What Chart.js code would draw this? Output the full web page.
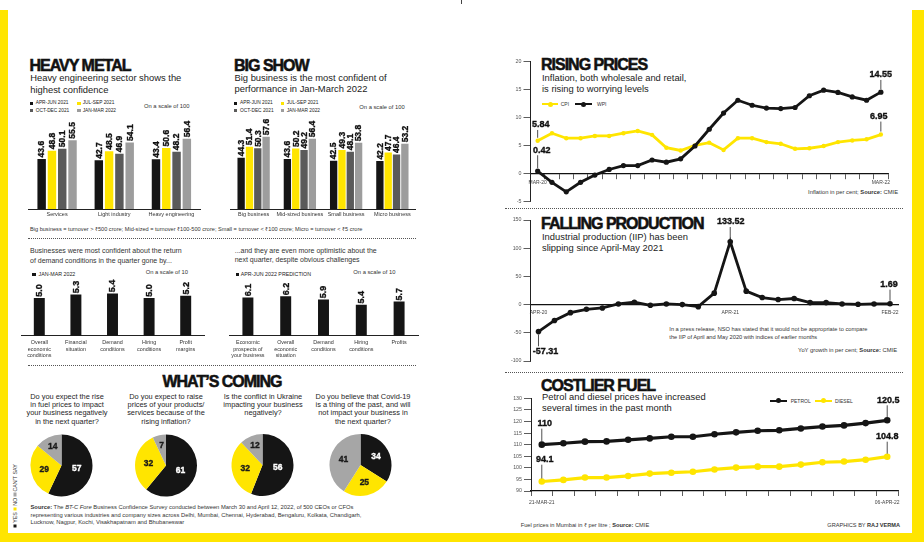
<!DOCTYPE html>
<html>
<head>
<meta charset="utf-8">
<script src="https://cdn.jsdelivr.net/npm/chart.js@4.4.1/dist/chart.umd.min.js"></script>
<style>
html,body{margin:0;padding:0;background:#fff;}
#root{position:relative;width:924px;height:542px;overflow:hidden;background:#fff;font-family:"Liberation Sans",Arial,sans-serif;color:#222;}
.t{position:absolute;white-space:nowrap;}
.ttl{font-weight:700;font-size:16px;line-height:16px;letter-spacing:-1px;-webkit-text-stroke:0.55px #111;color:#111;}
.sub{font-size:9.4px;line-height:11.8px;color:#222;}
.leg{font-size:4.8px;line-height:6px;color:#222;}
.sq{position:absolute;width:3.4px;height:3.4px;}
.sm{font-size:5.8px;line-height:7px;color:#333;}
.q{font-size:7.4px;line-height:8.2px;color:#1e1e1e;text-align:center;width:110px;}
.dot{position:absolute;height:0;border-top:1px dotted #555;}
.yb{position:absolute;background:#FFE500;}
.ln{position:absolute;height:2.4px;}
.pt{position:absolute;width:5px;height:5px;border-radius:50%;}
canvas{position:absolute;}
</style>
</head>
<body>
<div id="root">
  <!-- yellow frame -->
  <div class="yb" style="left:0;top:10px;width:7.5px;height:532px"></div>
  <div class="yb" style="left:911.5px;top:10px;width:12.5px;height:532px"></div>
  <div class="yb" style="left:0;top:533px;width:924px;height:9px"></div>
  <div style="position:absolute;left:460.5px;top:0;width:1px;height:4px;background:#444"></div>

  <!-- HEAVY METAL -->
  <div class="t ttl" style="left:29.5px;top:58.3px">HEAVY METAL</div>
  <div class="t sub" style="left:30.2px;top:72px">Heavy engineering sector shows the<br>highest confidence</div>
  <div class="sq" style="left:30px;top:101.6px;background:#151515"></div>
  <div class="t leg" style="left:35.7px;top:100.3px">APR-JUN 2021</div>
  <div class="sq" style="left:77.3px;top:101.6px;background:#FFE500"></div>
  <div class="t leg" style="left:82.7px;top:100.3px">JUL-SEP 2021</div>
  <div class="sq" style="left:30px;top:109px;background:#5a5a5a"></div>
  <div class="t leg" style="left:35.7px;top:107.7px">OCT-DEC 2021</div>
  <div class="sq" style="left:77.3px;top:109px;background:#9d9d9d"></div>
  <div class="t leg" style="left:82.7px;top:107.7px">JAN-MAR 2022</div>
  <div class="t sm" style="left:144px;top:103.2px">On a scale of 100</div>

  <!-- BIG SHOW -->
  <div class="t ttl" style="left:234px;top:58.3px">BIG SHOW</div>
  <div class="t sub" style="left:234.5px;top:71.7px">Big business is the most confident of<br>performance in Jan-March 2022</div>
  <div class="sq" style="left:234px;top:101.6px;background:#151515"></div>
  <div class="t leg" style="left:240px;top:100.3px">APR-JUN 2021</div>
  <div class="sq" style="left:280.7px;top:101.6px;background:#FFE500"></div>
  <div class="t leg" style="left:286.7px;top:100.3px">JUL-SEP 2021</div>
  <div class="sq" style="left:234px;top:109px;background:#5a5a5a"></div>
  <div class="t leg" style="left:240px;top:107.7px">OCT-DEC 2021</div>
  <div class="sq" style="left:280.7px;top:109px;background:#9d9d9d"></div>
  <div class="t leg" style="left:286.7px;top:107.7px">JAN-MAR 2022</div>
  <div class="t sm" style="left:359.3px;top:103.8px">On a scale of 100</div>

  <div class="t" style="left:30px;top:225.5px;font-size:5.6px;line-height:7px;color:#333">Big business = turnover &gt; ₹500 crore; Mid-sized = turnover ₹100-500 crore; Small = turnover &lt; ₹100 crore; Micro = turnover &lt; ₹5 crore</div>
  <div class="dot" style="left:28px;top:237.5px;width:388px"></div>

  <!-- middle row -->
  <div class="t" style="left:30px;top:246.3px;font-size:7px;line-height:9.3px;color:#333">Businesses were most confident about the return<br>of demand conditions in the quarter gone by...</div>
  <div class="sq" style="left:32.3px;top:272.6px;background:#151515"></div>
  <div class="t" style="left:38.5px;top:271px;font-size:5.3px;line-height:6.6px;color:#222">JAN-MAR 2022</div>
  <div class="t sm" style="left:145.7px;top:268.7px">On a scale of 10</div>

  <div class="t" style="left:234.7px;top:246px;font-size:7px;line-height:9.3px;color:#333">...and they are even more optimistic about the<br>next quarter, despite obvious challenges</div>
  <div class="sq" style="left:235.7px;top:272.6px;background:#151515"></div>
  <div class="t" style="left:240.7px;top:271px;font-size:5.3px;line-height:6.6px;color:#222">APR-JUN 2022 PREDICTION</div>
  <div class="t sm" style="left:353.3px;top:268.7px">On a scale of 10</div>
  <div class="dot" style="left:28px;top:365px;width:388px"></div>

  <!-- WHAT'S COMING -->
  <div class="t ttl" style="left:122px;top:374.3px;width:200px;text-align:center">WHAT’S COMING</div>
  <div class="t q" style="left:12px;top:393px">Do you expect the rise<br>in fuel prices to impact<br>your business negatively<br>in the next quarter?</div>
  <div class="t q" style="left:111px;top:393px">Do you expect to raise<br>prices of your products/<br>services because of the<br>rising inflation?</div>
  <div class="t q" style="left:208px;top:393px">Is the conflict in Ukraine<br>impacting your business<br>negatively?</div>
  <div class="t q" style="left:308px;top:393px">Do you believe that Covid-19<br>is a thing of the past, and will<br>not impact your business in<br>the next quarter?</div>
  <div class="t" style="left:-19px;top:490px;width:68px;height:7px;font-size:5.3px;line-height:7px;color:#333;transform:rotate(-90deg);transform-origin:50% 50%"><span style="display:inline-block;width:3.4px;height:3.4px;background:#151515"></span> YES <span style="display:inline-block;width:3.4px;height:3.4px;background:#FFE500"></span> NO <span style="display:inline-block;width:3.4px;height:3.4px;background:#a6a6a6"></span> CAN’T SAY</div>
  <div class="t" style="left:30.5px;top:504.2px;font-size:5.8px;line-height:7.5px;color:#333"><b>Source:</b> The <i>BT-C Fore</i> Business Confidence Survey conducted between March 30 and April 12, 2022, of 500 CEOs or CFOs<br>representing various industries and company sizes across Delhi, Mumbai, Chennai, Hyderabad, Bengaluru, Kolkata, Chandigarh,<br>Lucknow, Nagpur, Kochi, Visakhapatnam and Bhubaneswar</div>

  <!-- RISING PRICES -->
  <div class="t ttl" style="left:541px;top:56.8px">RISING PRICES</div>
  <div class="t sub" style="left:542px;top:71.6px;line-height:11.4px">Inflation, both wholesale and retail,<br>is rising to worrying levels</div>
  <div class="ln" style="left:542px;top:103.1px;width:16px;background:#FFE500"></div>
  <div class="pt" style="left:547.5px;top:101.8px;background:#FFE500"></div>
  <div class="t" style="left:560.7px;top:101.3px;font-size:5px;line-height:6px;color:#333">CPI</div>
  <div class="ln" style="left:575px;top:103.1px;width:17px;background:#151515"></div>
  <div class="pt" style="left:581px;top:101.8px;background:#151515"></div>
  <div class="t" style="left:597px;top:101.3px;font-size:5px;line-height:6px;color:#333">WPI</div>
  <div class="t" style="left:700px;top:189.2px;width:198px;text-align:right;font-size:5.8px;line-height:7px;color:#333">Inflation in per cent; <b>Source:</b> CMIE</div>
  <div class="dot" style="left:505px;top:208px;width:398px"></div>

  <!-- FALLING PRODUCTION -->
  <div class="t ttl" style="left:541px;top:216px">FALLING PRODUCTION</div>
  <div class="t sub" style="left:542px;top:230.6px;line-height:11.4px">Industrial production (IIP) has been<br>slipping since April-May 2021</div>
  <div class="t" style="left:669.3px;top:326.3px;font-size:5.7px;line-height:7.3px;color:#333">In a press release, NSO has stated that it would not be appropriate to compare<br>the IIP of April and May 2020 with indices of earlier months</div>
  <div class="t" style="left:697px;top:347.2px;width:200px;text-align:right;font-size:5.8px;line-height:7px;color:#333">YoY growth in per cent; <b>Source:</b> CMIE</div>
  <div class="dot" style="left:505px;top:372px;width:398px"></div>

  <!-- COSTLIER FUEL -->
  <div class="t ttl" style="left:541px;top:377.6px">COSTLIER FUEL</div>
  <div class="t sub" style="left:542px;top:391.3px;line-height:11px">Petrol and diesel prices have increased<br>several times in the past month</div>
  <div class="ln" style="left:770px;top:399.5px;width:17px;background:#151515"></div>
  <div class="pt" style="left:776px;top:398.2px;background:#151515"></div>
  <div class="t" style="left:790.7px;top:397.7px;font-size:5px;line-height:6px;color:#333">PETROL</div>
  <div class="ln" style="left:815px;top:399.5px;width:17px;background:#FFE500"></div>
  <div class="pt" style="left:821px;top:398.2px;background:#FFE500"></div>
  <div class="t" style="left:835px;top:397.7px;font-size:5px;line-height:6px;color:#333">DIESEL</div>
  <div class="t" style="left:520.7px;top:521.5px;font-size:5.7px;line-height:7px;color:#333">Fuel prices in Mumbai in ₹ per litre ; <b>Source:</b> CMIE</div>
  <div class="t" style="left:700px;top:521.5px;width:200px;text-align:right;font-size:5.6px;line-height:7px;color:#333">GRAPHICS BY <b>RAJ VERMA</b></div>
</div>

<script>
// ---------- DATA ----------
const quarterLabels = ['APR-JUN 2021', 'JUL-SEP 2021', 'OCT-DEC 2021', 'JAN-MAR 2022'];

const hmCategories = ['Services', 'Light industry', 'Heavy engineering'];
const hmAprJun = [43.6, 42.7, 43.4];
const hmJulSep = [48.8, 48.5, 50.6];
const hmOctDec = [50.1, 46.9, 48.2];
const hmJanMar = [55.5, 54.1, 56.4];

const bsCategories = ['Big business', 'Mid-sized business', 'Small business', 'Micro business'];
const bsAprJun = [44.3, 43.6, 42.5, 42.2];
const bsJulSep = [51.4, 50.2, 49.3, 47.7];
const bsOctDec = [50.3, 49.2, 48.1, 46.4];
const bsJanMar = [57.6, 56.4, 53.8, 53.2];

const pastCategories = [['Overall', 'economic', 'conditions'], ['Financial', 'situation'], ['Demand', 'conditions'], ['Hiring', 'conditions'], ['Profit', 'margins']];
const pastValues = [5.0, 5.3, 5.4, 5.0, 5.2];
const nextCategories = [['Economic', 'prospects of', 'your business'], ['Overall', 'economic', 'situation'], ['Demand', 'conditions'], ['Hiring', 'conditions'], ['Profits']];
const nextValues = [6.1, 6.2, 5.9, 5.4, 5.7];

const pieLabels = ['YES', 'NO', "CAN'T SAY"];
const pieFuel = [57, 29, 14];
const pieInflation = [61, 32, 7];
const pieUkraine = [56, 32, 12];
const pieCovid = [34, 25, 41];

const inflationMonths = ['MAR-20','APR-20','MAY-20','JUN-20','JUL-20','AUG-20','SEP-20','OCT-20','NOV-20','DEC-20','JAN-21','FEB-21','MAR-21','APR-21','MAY-21','JUN-21','JUL-21','AUG-21','SEP-21','OCT-21','NOV-21','DEC-21','JAN-22','FEB-22','MAR-22'];
const cpiValues = [5.84, 7.2, 6.3, 6.3, 6.7, 6.7, 7.2, 7.6, 6.9, 4.6, 4.1, 5.0, 5.5, 4.2, 6.3, 6.3, 5.6, 5.3, 4.4, 4.5, 4.9, 5.6, 5.9, 6.1, 6.95];
const wpiValues = [0.42, -1.6, -3.3, -1.6, -0.3, 0.7, 1.4, 1.4, 2.4, 2.0, 2.6, 4.9, 7.9, 10.8, 13.1, 12.2, 11.7, 11.6, 11.8, 13.9, 14.9, 14.5, 13.7, 13.1, 14.55];

const iipMonths = ['APR-20','MAY-20','JUN-20','JUL-20','AUG-20','SEP-20','OCT-20','NOV-20','DEC-20','JAN-21','FEB-21','MAR-21','APR-21','MAY-21','JUN-21','JUL-21','AUG-21','SEP-21','OCT-21','NOV-21','DEC-21','JAN-22','FEB-22'];
const iipValues = [-57.31, -33.6, -17.1, -10.0, -7.1, 1.4, 5.0, -1.4, 1.4, 0.0, -4.3, 24.3, 133.52, 28.6, 15.0, 10.7, 12.9, 4.3, 4.3, 1.4, 0.7, 1.4, 1.69];
const iipAxisTicks = [-100, -50, 0, 50, 100, 150];

const fuelDates = ['21-MAR-21', '', '', '', '', '', '', '', '', '', '', '', '', '', '', '', '06-APR-22'];
const petrolValues = [110, 110.6, 111.3, 111.4, 112.1, 112.7, 113.4, 113.4, 114.5, 115.3, 116.0, 116.2, 117.0, 117.8, 118.3, 119.3, 120.5];
const dieselValues = [94.1, 94.8, 95.8, 95.8, 96.5, 97.5, 97.9, 98.3, 99.3, 100.1, 100.5, 100.5, 101.4, 102.4, 102.7, 103.5, 104.8];

// ---------- STYLE ----------
const BLACK = '#151515', YELLOW = '#FFE500', DGRAY = '#5a5a5a', LGRAY = '#9d9d9d', PGRAY = '#a6a6a6';
const quarterColors = [BLACK, YELLOW, DGRAY, LGRAY];
const FONT = '"Liberation Sans", Arial, sans-serif';
const root = document.getElementById('root');

Chart.defaults.font.family = FONT;
Chart.defaults.color = '#333';
Chart.defaults.animation = false;
Chart.defaults.responsive = false;
Chart.defaults.maintainAspectRatio = false;
Chart.defaults.events = [];
Chart.defaults.plugins.legend.display = false;
Chart.defaults.plugins.tooltip.enabled = false;

function makeCanvas(area, yw, xh, m) {
  const c = document.createElement('canvas');
  const left = Math.floor(area.L - yw - m), top = Math.floor(area.T - m);
  const right = Math.ceil(area.R + m), bottom = Math.ceil(area.B + xh + m);
  c.width = right - left; c.height = bottom - top;
  c.style.left = left + 'px'; c.style.top = top + 'px';
  c.style.width = c.width + 'px'; c.style.height = c.height + 'px';
  root.appendChild(c);
  return { c, padding: { left: area.L - yw - left, top: area.T - top, right: right - area.R, bottom: bottom - area.B - xh } };
}

// value labels on bars (rotated)
const barVals = {
  id: 'barVals',
  afterDatasetsDraw(chart, args, o) {
    const ctx = chart.ctx;
    ctx.save();
    ctx.font = 'bold ' + o.size + 'px ' + FONT;
    ctx.fillStyle = '#111'; ctx.strokeStyle = '#111'; ctx.lineWidth = 0.35;
    ctx.textAlign = 'left'; ctx.textBaseline = 'middle';
    chart.data.datasets.forEach((ds, di) => {
      chart.getDatasetMeta(di).data.forEach((bar, i) => {
        const txt = Number(ds.data[i]).toFixed(1);
        ctx.save();
        ctx.translate(bar.x + 0.5, bar.y - o.gap);
        ctx.rotate(-Math.PI / 2);
        ctx.fillText(txt, 0, 0);
        ctx.strokeText(txt, 0, 0);
        ctx.restore();
      });
    });
    ctx.restore();
  }
};

// value labels inside pie slices
const pieVals = {
  id: 'pieVals',
  afterDatasetsDraw(chart) {
    const ctx = chart.ctx, ds = chart.data.datasets[0];
    const total = ds.data.reduce((a, b) => a + b, 0);
    ctx.save();
    ctx.font = 'bold 8.5px ' + FONT;
    ctx.textAlign = 'center'; ctx.textBaseline = 'middle'; ctx.lineWidth = 0.35;
    chart.getDatasetMeta(0).data.forEach((arc, i) => {
      const p = arc.getProps(['x', 'y', 'startAngle', 'endAngle', 'outerRadius'], true);
      const share = ds.data[i] / total;
      const f = share > 0.45 ? 0.5 : share > 0.2 ? 0.57 : 0.66;
      const mid = (p.startAngle + p.endAngle) / 2;
      const x = p.x + Math.cos(mid) * p.outerRadius * f, y = p.y + Math.sin(mid) * p.outerRadius * f;
      const col = i === 0 ? '#fff' : '#1a1a1a';
      ctx.fillStyle = col; ctx.strokeStyle = col;
      ctx.fillText(String(ds.data[i]), x, y);
      ctx.strokeText(String(ds.data[i]), x, y);
    });
    ctx.restore();
  }
};

// call-out labels with leader lines
const notes = {
  id: 'notes',
  afterDatasetsDraw(chart, args, o) {
    const ctx = chart.ctx;
    ctx.save();
    ctx.font = 'bold 9px ' + FONT;
    ctx.textAlign = 'center'; ctx.textBaseline = 'middle';
    (o.items || []).forEach(n => {
      const el = chart.getDatasetMeta(n.ds).data[n.i];
      const px = el.x, py = el.y;
      const tx = px + (n.dx || 0), ty = py + n.dy;
      const dir = Math.sign(n.dy);
      ctx.strokeStyle = '#222'; ctx.lineWidth = 0.8;
      ctx.beginPath();
      ctx.moveTo(px, py + dir * 3);
      ctx.lineTo(px, ty - dir * 5);
      ctx.stroke();
      const txt = String(chart.data.datasets[n.ds].data[n.i]);
      ctx.fillStyle = '#111'; ctx.strokeStyle = '#111'; ctx.lineWidth = 0.35;
      ctx.fillText(txt, tx, ty);
      ctx.strokeText(txt, tx, ty);
    });
    ctx.restore();
  }
};

function groupedBars(area, cats, series, yMin, yMax, barPct) {
  const xh = 14;
  const { c, padding } = makeCanvas(area, 0, xh, 4);
  return new Chart(c, {
    type: 'bar',
    data: {
      labels: cats,
      datasets: series.map((s, i) => ({ label: quarterLabels[i], data: s, backgroundColor: quarterColors[i], borderWidth: 0, categoryPercentage: 0.72, barPercentage: barPct }))
    },
    options: {
      layout: { padding },
      scales: {
        x: { afterFit: s => { s.height = xh; }, grid: { display: false, drawTicks: false }, border: { display: true, color: '#222', width: 1 },
             ticks: { autoSkip: false, maxRotation: 0, minRotation: 0, padding: 2.2, color: '#333', font: { size: 5.5 } } },
        y: { display: false, min: yMin, max: yMax }
      },
      plugins: { barVals: { size: 8.5, gap: 1.5 } }
    },
    plugins: [barVals]
  });
}

function singleBars(area, cats, values, label, yMin, yMax) {
  const xh = 24;
  const { c, padding } = makeCanvas(area, 0, xh, 4);
  return new Chart(c, {
    type: 'bar',
    data: { labels: cats, datasets: [{ label, data: values, backgroundColor: BLACK, borderWidth: 0, barThickness: 10.3 }] },
    options: {
      layout: { padding },
      scales: {
        x: { afterFit: s => { s.height = xh; }, grid: { display: false, drawTicks: false }, border: { display: true, color: '#222', width: 1 },
             ticks: { autoSkip: false, maxRotation: 0, minRotation: 0, padding: 3.3, color: '#333', font: { size: 5.4, lineHeight: 1.25 } } },
        y: { display: false, min: yMin, max: yMax }
      },
      plugins: { barVals: { size: 9, gap: 1.5 } }
    },
    plugins: [barVals]
  });
}

function pie(cx, cy, r, values) {
  const { c, padding } = makeCanvas({ L: cx - r, R: cx + r, T: cy - r, B: cy + r }, 0, 0, 4);
  return new Chart(c, {
    type: 'pie',
    data: { labels: pieLabels, datasets: [{ data: values, backgroundColor: [BLACK, YELLOW, PGRAY], borderWidth: 0 }] },
    options: { layout: { padding } },
    plugins: [pieVals]
  });
}

// ---------- CHARTS ----------
groupedBars({ L: 28.5, R: 200, T: 118, B: 209 }, hmCategories, [hmAprJun, hmJulSep, hmOctDec, hmJanMar], 11.8, 69.58, 0.82);
groupedBars({ L: 230.5, R: 415.5, T: 118, B: 209 }, bsCategories, [bsAprJun, bsJulSep, bsOctDec, bsJanMar], 11.8, 69.58, 0.88);

singleBars({ L: 21, R: 204, T: 276, B: 335.7 }, pastCategories, pastValues, 'JAN-MAR 2022', 1.75, 6.94);
singleBars({ L: 229, R: 418, T: 276, B: 335.7 }, nextCategories, nextValues, 'APR-JUN 2022 PREDICTION', 2.45, 8.19);

pie(61.5, 465.5, 31, pieFuel);
pie(166, 465.5, 31, pieInflation);
pie(262.5, 465, 31, pieUkraine);
pie(360.5, 465, 31, pieCovid);

const axisTickStyle = { font: { size: 5.3 }, color: '#555', padding: 2 };

// Rising prices
(function () {
  const { c, padding } = makeCanvas({ L: 530.5, R: 888, T: 61.7, B: 201.3 }, 30.5, 0, 6);
  const last = inflationMonths.length - 1;
  new Chart(c, {
    type: 'line',
    data: {
      labels: inflationMonths,
      datasets: [
        { label: 'WPI', data: wpiValues, borderColor: BLACK, backgroundColor: BLACK, borderWidth: 2.8, pointRadius: 2.6, pointBorderWidth: 0, pointBackgroundColor: BLACK, tension: 0 },
        { label: 'CPI', data: cpiValues, borderColor: YELLOW, backgroundColor: YELLOW, borderWidth: 2.8, pointRadius: 2.2, pointBorderWidth: 0, pointBackgroundColor: YELLOW, tension: 0 }
      ]
    },
    options: {
      layout: { padding },
      scales: {
        x: { offset: true, position: { y: 0 },
             grid: { display: true, drawOnChartArea: false, offset: true, tickLength: 5, color: '#333', lineWidth: 0.8 },
             border: { display: true, color: '#111', width: 1.2 },
             ticks: { autoSkip: false, maxRotation: 0, minRotation: 0, padding: 1.5, color: '#444', font: { size: 5 },
                      callback: (v, i) => (i === 0 || i === last) ? inflationMonths[i] : '' } },
        y: { min: -5, max: 20, afterFit: s => { s.width = 30.5; },
             ticks: Object.assign({ stepSize: 5 }, axisTickStyle),
             grid: { drawOnChartArea: false, tickLength: 7, color: '#333', lineWidth: 0.8 },
             border: { display: true, color: '#222', width: 1 } }
      },
      plugins: { notes: { items: [
        { ds: 1, i: 0, dx: 3, dy: -15.8 },
        { ds: 0, i: 0, dx: 4, dy: -20.8 },
        { ds: 0, i: last, dx: 0, dy: -17.2 },
        { ds: 1, i: last, dx: -2, dy: -18 }
      ] } }
    },
    plugins: [notes]
  });
})();

// Falling production
(function () {
  const { c, padding } = makeCanvas({ L: 530.5, R: 898, T: 220, B: 361 }, 30.5, 0, 6);
  const last = iipMonths.length - 1;
  new Chart(c, {
    type: 'line',
    data: {
      labels: iipMonths,
      datasets: [
        { label: 'IIP', data: iipValues, yAxisID: 'y', borderColor: BLACK, backgroundColor: BLACK, borderWidth: 2.8, pointRadius: 2.8, pointBorderWidth: 0, pointBackgroundColor: BLACK, tension: 0 }
      ]
    },
    options: {
      layout: { padding },
      scales: {
        x: { offset: true, position: { yv: 0 },
             grid: { display: false, drawTicks: false },
             border: { display: true, color: '#111', width: 1.2 },
             ticks: { autoSkip: false, maxRotation: 0, minRotation: 0, padding: 5, color: '#444', font: { size: 5 },
                      callback: (v, i) => (i === 0 || i === 12 || i === last) ? iipMonths[i] : '' } },
        y: { display: false, min: -119.7, max: 179.6 },
        yv: { axis: 'y', position: 'left', min: iipAxisTicks[0], max: iipAxisTicks[iipAxisTicks.length - 1], afterFit: s => { s.width = 30.5; },
              ticks: Object.assign({ stepSize: 50 }, axisTickStyle),
              grid: { drawOnChartArea: false, tickLength: 7, color: '#333', lineWidth: 0.8 },
              border: { display: true, color: '#222', width: 1 } }
      },
      plugins: { notes: { items: [
        { ds: 0, i: 0, dx: 7, dy: 19.7 },
        { ds: 0, i: 12, dx: 0.5, dy: -19.7 },
        { ds: 0, i: last, dx: -1, dy: -19.2 }
      ] } }
    },
    plugins: [notes]
  });
})();

// Costlier fuel
(function () {
  const xh = 14;
  const { c, padding } = makeCanvas({ L: 531, R: 898, T: 398.3, B: 491 }, 30.5, xh, 6);
  const last = fuelDates.length - 1;
  new Chart(c, {
    type: 'line',
    data: {
      labels: fuelDates,
      datasets: [
        { label: 'PETROL', data: petrolValues, borderColor: BLACK, backgroundColor: BLACK, borderWidth: 3.2, pointRadius: 3.3, pointBorderWidth: 0, pointBackgroundColor: BLACK, tension: 0 },
        { label: 'DIESEL', data: dieselValues, borderColor: YELLOW, backgroundColor: YELLOW, borderWidth: 3.2, pointRadius: 3.3, pointBorderWidth: 0, pointBackgroundColor: YELLOW, tension: 0 }
      ]
    },
    options: {
      layout: { padding },
      scales: {
        x: { offset: true, afterFit: s => { s.height = xh; },
             grid: { display: true, drawOnChartArea: false, offset: true, tickLength: 5, color: '#333', lineWidth: 0.8 },
             border: { display: true, color: '#111', width: 1.2 },
             ticks: { autoSkip: false, maxRotation: 0, minRotation: 0, padding: 4, color: '#444', font: { size: 5 } } },
        y: { min: 90, max: 130, afterFit: s => { s.width = 30.5; },
             ticks: Object.assign({ stepSize: 5 }, axisTickStyle),
             grid: { drawOnChartArea: false, tickLength: 7, color: '#333', lineWidth: 0.8 },
             border: { display: true, color: '#222', width: 1 } }
      },
      plugins: { notes: { items: [
        { ds: 0, i: 0, dx: 3, dy: -21 },
        { ds: 1, i: 0, dx: 3, dy: -21.8 },
        { ds: 0, i: last, dx: 1, dy: -20 },
        { ds: 1, i: last, dx: 0, dy: -20 }
      ] } }
    },
    plugins: [notes]
  });
})();
</script>
</body>
</html>
